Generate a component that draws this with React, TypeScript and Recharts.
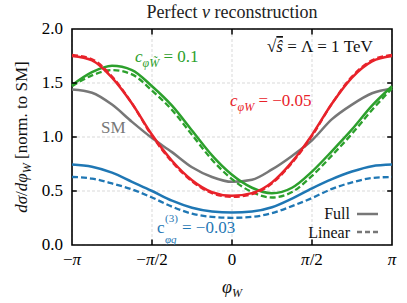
import React from "react";
import { LineChart, Line, XAxis, YAxis, CartesianGrid, ReferenceArea, ReferenceLine } from "recharts";

// phi in units of pi
const phi = [-1, -0.875, -0.75, -0.625, -0.5, -0.375, -0.25, -0.125, 0, 0.125, 0.25, 0.375, 0.5, 0.625, 0.75, 0.875, 1];

const sm = [1.44, 1.41, 1.3, 1.14, 0.99, 0.86, 0.72, 0.63, 0.585, 0.605, 0.7, 0.825, 0.97, 1.165, 1.3, 1.405, 1.45];

const redFull = [1.75, 1.71, 1.55, 1.31, 1.02, 0.78, 0.6, 0.49, 0.455, 0.48, 0.58, 0.77, 1.02, 1.31, 1.55, 1.7, 1.75];
const redLin = [1.76, 1.72, 1.56, 1.31, 1.01, 0.77, 0.59, 0.48, 0.445, 0.47, 0.57, 0.76, 1.01, 1.31, 1.56, 1.71, 1.76];

const greenFull = [1.48, 1.6, 1.66, 1.62, 1.47, 1.29, 1.06, 0.83, 0.65, 0.53, 0.48, 0.53, 0.68, 0.87, 1.07, 1.29, 1.47];
const greenLin = [1.47, 1.57, 1.62, 1.58, 1.43, 1.25, 1.02, 0.79, 0.61, 0.49, 0.44, 0.49, 0.64, 0.83, 1.03, 1.25, 1.45];

const blueFull = [0.745, 0.725, 0.67, 0.585, 0.5, 0.41, 0.345, 0.31, 0.3, 0.31, 0.35, 0.43, 0.525, 0.61, 0.68, 0.73, 0.745];
const blueLin = [0.63, 0.615, 0.57, 0.515, 0.44, 0.355, 0.29, 0.26, 0.252, 0.26, 0.295, 0.36, 0.435, 0.52, 0.58, 0.62, 0.63];

const xTicks = [-1, -0.5, 0, 0.5, 1];
const xTickLabels = ["−π", "−π/2", "0", "π/2", "π"];
const yTicks = [0, 0.5, 1, 1.5, 2];

const RED = "#e8222a";
const GREEN = "#2ca02c";
const BLUE = "#1f77b4";
const GRAY = "#777777";
const FONT = "Liberation Serif";
const serif = { fontFamily: FONT };

const data = phi.map((p, i) => ({
  phi: p,
  sm: sm[i],
  redFull: redFull[i],
  redLin: redLin[i],
  greenFull: greenFull[i],
  greenLin: greenLin[i],
  blueFull: blueFull[i],
  blueLin: blueLin[i],
}));

function XTick(props: any) {
  const { x, y, payload } = props;
  const idx = xTicks.indexOf(payload.value);
  const label = xTickLabels[idx] ?? "";
  const parts = label.split("π");
  return (
    <text x={x} y={y + 12} textAnchor="middle" style={serif} fontSize={17} fill="#000">
      {parts.map((part, i) => (
        <React.Fragment key={i}>
          {part && <tspan>{part}</tspan>}
          {i < parts.length - 1 && <tspan fontStyle="italic">π</tspan>}
        </React.Fragment>
      ))}
    </text>
  );
}

function YTick(props: any) {
  const { x, y, payload } = props;
  return (
    <text x={x} y={y + 5} textAnchor="end" style={serif} fontSize={17} fill="#000">
      {payload.value.toFixed(1)}
    </text>
  );
}

export default function App() {
  return (
    <div style={{ position: "absolute", left: 0, top: 0, width: 407, height: 303, background: "#fff" }}>
      <LineChart width={407} height={303} data={data} margin={{ top: 29, right: 15, bottom: 28, left: 0 }}>
        <CartesianGrid stroke="#cfcfcf" strokeDasharray="3 2" strokeWidth={0.8} />
        <XAxis
          type="number"
          dataKey="phi"
          domain={[-1, 1]}
          ticks={xTicks}
          tick={<XTick />}
          tickLine={false}
          axisLine={false}
          height={30}
          interval={0}
        />
        <YAxis
          domain={[0, 2]}
          ticks={yTicks}
          width={72}
          tickLine={false}
          axisLine={false}
          tick={<YTick />}
          tickMargin={3}
          interval={0}
        />
        <Line dataKey="blueLin" stroke={BLUE} strokeWidth={2.3} strokeDasharray="6 3" dot={false} type="monotone" isAnimationActive={false} />
        <Line dataKey="blueFull" stroke={BLUE} strokeWidth={2.5} dot={false} type="monotone" isAnimationActive={false} />
        <Line dataKey="sm" stroke={GRAY} strokeWidth={2.5} dot={false} type="monotone" isAnimationActive={false} />
        <Line dataKey="greenLin" stroke={GREEN} strokeWidth={2.3} strokeDasharray="6 3" dot={false} type="monotone" isAnimationActive={false} />
        <Line dataKey="greenFull" stroke={GREEN} strokeWidth={2.5} dot={false} type="monotone" isAnimationActive={false} />
        <Line dataKey="redLin" stroke={RED} strokeWidth={2.3} strokeDasharray="6 3" dot={false} type="monotone" isAnimationActive={false} />
        <Line dataKey="redFull" stroke={RED} strokeWidth={2.5} dot={false} type="monotone" isAnimationActive={false} />
        {[-0.5, 0, 0.5].map((t) => (
          <ReferenceLine key={"b" + t} segment={[{ x: t, y: 0 }, { x: t, y: 0.05 }]} stroke="#000" strokeWidth={1.5} />
        ))}
        {[-0.5, 0, 0.5].map((t) => (
          <ReferenceLine key={"t" + t} segment={[{ x: t, y: 2 }, { x: t, y: 1.95 }]} stroke="#000" strokeWidth={1.5} />
        ))}
        {[0.5, 1, 1.5].map((t) => (
          <ReferenceLine key={"l" + t} segment={[{ x: -1, y: t }, { x: -0.97, y: t }]} stroke="#000" strokeWidth={1.5} />
        ))}
        {[0.5, 1, 1.5].map((t) => (
          <ReferenceLine key={"r" + t} segment={[{ x: 1, y: t }, { x: 0.97, y: t }]} stroke="#000" strokeWidth={1.5} />
        ))}
        <ReferenceArea x1={-1} x2={1} y1={0} y2={2} fill="none" stroke="#000" strokeWidth={1.6} />
      </LineChart>
      <svg width={407} height={303} style={{ position: "absolute", left: 0, top: 0, pointerEvents: "none", fontFamily: FONT }}>
        <text x={232} y={18} textAnchor="middle" fontSize={18} fill="#222" style={serif}>
          Perfect <tspan fontStyle="italic">ν</tspan> reconstruction
        </text>
        <text x={267} y={52} fontSize={17} fill="#111" style={serif}>
          √<tspan fontStyle="italic" textDecoration="overline">ŝ</tspan> = Λ = 1 TeV
        </text>
        <text x={135} y={62} fontSize={17} fill={GREEN} style={serif}>
          <tspan fontStyle="italic">c</tspan>
          <tspan fontStyle="italic" fontSize={12} dy={5}>φW̃</tspan>
          <tspan dy={-5}> = 0.1</tspan>
        </text>
        <text x={230} y={106} fontSize={17} fill={RED} style={serif}>
          <tspan fontStyle="italic">c</tspan>
          <tspan fontStyle="italic" fontSize={12} dy={5}>φW</tspan>
          <tspan dy={-5}> = −0.05</tspan>
        </text>
        <text x={101} y={133} fontSize={17} fill={GRAY} style={serif}>SM</text>
        <text x={157} y={233} fontSize={17} fill={BLUE} style={serif}>c</text>
        <text x={165} y={222} fontSize={11} fill={BLUE} style={serif}>(3)</text>
        <text x={165} y={243} fontSize={11} fill={BLUE} fontStyle="italic" style={serif}>φq</text>
        <text x={182} y={233} fontSize={17} fill={BLUE} style={serif}>= −0.03</text>
        <text x={350} y={219} textAnchor="end" fontSize={16} fill="#111" style={serif}>Full</text>
        <line x1={357} y1={214} x2={378} y2={214} stroke={GRAY} strokeWidth={2.5} />
        <text x={350} y={238} textAnchor="end" fontSize={16} fill="#111" style={serif}>Linear</text>
        <line x1={357} y1={232} x2={378} y2={232} stroke={GRAY} strokeWidth={2.3} strokeDasharray="5 3" />
        <text x={232} y={293} textAnchor="middle" fontSize={18} fill="#111" style={serif}>
          <tspan fontStyle="italic">φ</tspan>
          <tspan fontStyle="italic" fontSize={12} dy={4}>W</tspan>
        </text>
        <text transform="translate(27,137) rotate(-90)" textAnchor="middle" fontSize={17} fill="#111" style={serif}>
          <tspan fontStyle="italic">dσ</tspan>/<tspan fontStyle="italic">dφ</tspan>
          <tspan fontStyle="italic" fontSize={12} dy={4}>W</tspan>
          <tspan dy={-4}> [norm. to SM]</tspan>
        </text>
      </svg>
    </div>
  );
}
